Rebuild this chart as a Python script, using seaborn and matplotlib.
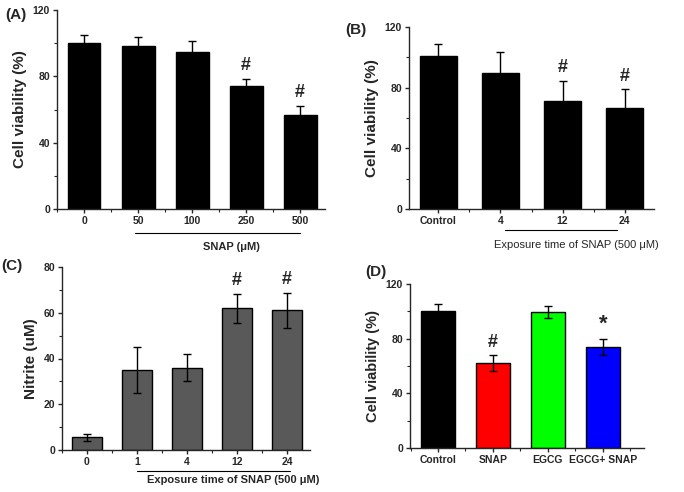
import matplotlib
matplotlib.use("Agg")
import matplotlib.pyplot as plt
import matplotlib.transforms as mtransforms
from matplotlib.ticker import MultipleLocator
import seaborn as sns

# ---- data ----
a_labels = ["0", "50", "100", "250", "500"]
a_means = [100, 98, 94.6, 73.9, 56.8]
a_errs = [5, 5.8, 6.8, 4.4, 5.6]
a_marks = ["", "", "", "#", "#"]

b_labels = ["Control", "4", "12", "24"]
b_means = [100.7, 90, 71.2, 66.8]
b_errs = [8.1, 13.5, 13.4, 12.1]
b_marks = ["", "", "#", "#"]

c_labels = ["0", "1", "4", "12", "24"]
c_means = [5.5, 35, 36, 62, 61]
c_errs = [1.7, 9.9, 5.9, 6.3, 7.7]
c_marks = ["", "", "", "#", "#"]

d_labels = ["Control", "SNAP", "EGCG", "EGCG+ SNAP"]
d_means = [99.9, 62, 99.2, 74]
d_errs = [5.7, 5.7, 4.4, 5.6]
d_marks = ["", "#", "", "*"]
d_colors = ["#000000", "#ff0000", "#00ff00", "#0000ff"]

sns.set_style("ticks")
plt.rcParams["font.family"] = ["Liberation Sans", "DejaVu Sans"]
plt.rcParams["axes.linewidth"] = 1.0

W, H = 684, 492
fig = plt.figure(figsize=(W / 100, H / 100), dpi=100)


def px_axes(left, right, top, bottom):
    return fig.add_axes([left / W, 1 - bottom / H, (right - left) / W, (bottom - top) / H])


def panel(ax, labels, means, errs, marks, colors, width, xlim, ymax, ystep, ylabel,
          ylabel_size=11, mark_off=4):
    sns.barplot(x=labels, y=means, hue=labels, palette=colors, legend=False,
                saturation=1, width=width, edgecolor="black", linewidth=1, ax=ax)
    ax.errorbar(range(len(means)), means, yerr=errs, fmt="none", ecolor="black",
                elinewidth=1, capsize=3, capthick=1)
    for i, m in enumerate(marks):
        if m:
            ax.text(i, means[i] + errs[i] + mark_off, m, ha="center", va="bottom",
                    fontsize=13 if m == "#" else 16, fontweight="bold")
    ax.set_xlim(*xlim)
    ax.set_ylim(0, ymax)
    ax.yaxis.set_major_locator(MultipleLocator(ystep))
    ax.yaxis.set_minor_locator(MultipleLocator(ystep / 2))
    ax.xaxis.set_minor_locator(MultipleLocator(0.5))
    ax.tick_params(which="major", length=3, width=1, labelsize=7.5, pad=2)
    ax.tick_params(which="minor", length=2, width=0.8)
    for t in ax.get_xticklabels() + ax.get_yticklabels():
        t.set_fontweight("bold")
    ax.set_ylabel(ylabel, fontsize=ylabel_size, fontweight="bold")
    ax.set_xlabel("")
    sns.despine(ax=ax)


def underline(ax, x0, x1, y, text, tx, ty, ha, size, weight):
    trans = mtransforms.blended_transform_factory(ax.transData, ax.transAxes)
    ax.plot([x0, x1], [y, y], color="black", lw=0.8, transform=trans, clip_on=False)
    ax.text(tx, ty, text, transform=trans, ha=ha, va="center", fontsize=size,
            fontweight=weight)


# (A)
ax_a = px_axes(57, 325, 10, 209)
panel(ax_a, a_labels, a_means, a_errs, a_marks, ["black"] * 5, 0.61, (-0.5, 4.46),
      120, 40, "Cell viability (%)", mark_off=3)
underline(ax_a, 0.95, 4.0, -0.12, "SNAP (\u03bcM)", 2.72, -0.19, "center", 8, "bold")

# (B)
ax_b = px_axes(409, 654, 27, 209)
panel(ax_b, b_labels, b_means, b_errs, b_marks, ["black"] * 4, 0.6, (-0.47, 3.47),
      120, 40, "Cell viability (%)", mark_off=3)
underline(ax_b, 1.08, 2.87, -0.115, "Exposure time of SNAP (500 \u03bcM)", 0.9, -0.198,
          "left", 8, "normal")

# (C)
ax_c = px_axes(62, 310, 267, 450)
panel(ax_c, c_labels, c_means, c_errs, c_marks, ["#595959"] * 5, 0.6, (-0.5, 4.46),
      80, 20, "Nitrite (uM)", mark_off=2)
underline(ax_c, 1.0, 4.06, -0.115, "Exposure time of SNAP (500 \u03bcM)", 1.2, -0.165,
          "left", 8, "bold")

# (D)
ax_d = px_axes(410, 644, 284, 448)
panel(ax_d, d_labels, d_means, d_errs, d_marks, d_colors, 0.62, (-0.51, 3.75),
      120, 40, "Cell viability (%)", ylabel_size=10.5, mark_off=3)

for txt, x, y in [("(A)", 5, 15), ("(B)", 345, 30), ("(C)", 1, 266), ("(D)", 365, 272)]:
    fig.text(x / W, 1 - y / H, txt, ha="left", va="center", fontsize=11, fontweight="bold")

fig.savefig("out.png", dpi=100)
